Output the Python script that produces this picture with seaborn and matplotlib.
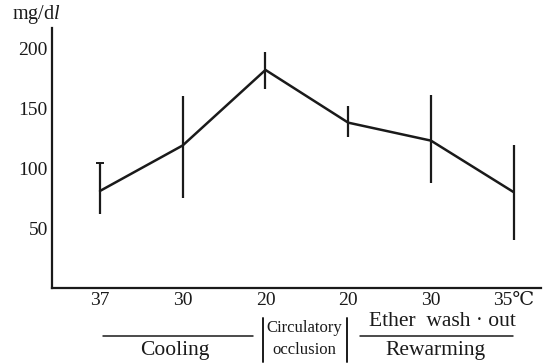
import matplotlib
matplotlib.use("Agg")
import matplotlib.pyplot as plt
import seaborn as sns
import pandas as pd
import numpy as np

# data
x_labels = ["37", "30", "20", "20", "30", "35℃"]
means = [81, 119, 182, 138, 123, 80]
upper = [104, 160, 197, 152, 161, 119]
lower = [62, 75, 166, 126, 88, 40]
y_ticks = [50, 100, 150, 200]

sns.set_theme(style="white")
plt.rcParams['font.family'] = ['Liberation Serif', 'DejaVu Serif']
plt.rcParams['mathtext.fontset'] = 'custom'
plt.rcParams['mathtext.rm'] = 'Liberation Serif'
plt.rcParams['mathtext.it'] = 'Liberation Serif:italic'

ink = "#1a1a1a"
W, H = 554, 363
fig = plt.figure(figsize=(W / 100, H / 100), dpi=100)
# axes in pixel coordinates: left 52, right 541, bottom 288, top 28
ax = fig.add_axes([52 / W, 1 - 288 / H, (541 - 52) / W, (288 - 28) / H])

df = pd.DataFrame({"pos": np.arange(len(means)), "val": means})
sns.lineplot(data=df, x="pos", y="val", ax=ax, color=ink, linewidth=1.8)
ax.vlines(df["pos"], lower, upper, color=ink, linewidth=1.6)
# small cap at top of first error bar
ax.hlines(upper[0], -0.05, 0.05, color=ink, linewidth=1.4)

ax.set_xlim(-0.58, 5.33)
ax.set_ylim(0, 217)
ax.set_xticks(np.arange(len(x_labels)))
ax.set_xticklabels(x_labels)
ax.set_yticks(y_ticks)
ax.set_yticklabels([str(v) for v in y_ticks])
ax.set_xlabel("")
ax.set_ylabel("")
for s in ["top", "right"]:
    ax.spines[s].set_visible(False)
for s in ["left", "bottom"]:
    ax.spines[s].set_color(ink)
    ax.spines[s].set_linewidth(1.6)
ax.tick_params(axis="both", direction="in", length=5, width=1.3, colors=ink,
               labelsize=14, labelcolor=ink)
ax.tick_params(axis="y", pad=3)
ax.tick_params(axis="x", pad=3)

fig.text(12 / W, 1 - 15 / H, r"mg/d$\mathit{l}$", fontsize=14.5, color=ink,
         va="center", ha="left")

# group annotations below axis
def px(x, y):
    return x / W, 1 - y / H

def hline(x0, x1, y):
    fig.add_artist(plt.Line2D([x0 / W, x1 / W], [1 - y / H, 1 - y / H],
                              color=ink, linewidth=1.1))

def vline(x, y0, y1):
    fig.add_artist(plt.Line2D([x / W, x / W], [1 - y0 / H, 1 - y1 / H],
                              color=ink, linewidth=1.4))

hline(103, 253, 336)
fig.text(*px(175, 351), "Cooling", fontsize=15.5, color=ink, ha="center", va="center")
vline(263, 318, 362)
vline(347, 318, 362)
fig.text(*px(304, 328), "Circulatory", fontsize=12, color=ink, ha="center", va="center")
fig.text(*px(304, 350), "occlusion", fontsize=12, color=ink, ha="center", va="center")
hline(360, 513, 336)
fig.text(*px(442, 322), "Ether  wash · out", fontsize=15.5, color=ink, ha="center", va="center")
fig.text(*px(436, 350), "Rewarming", fontsize=15.5, color=ink, ha="center", va="center")

fig.savefig("out.png", dpi=100)
